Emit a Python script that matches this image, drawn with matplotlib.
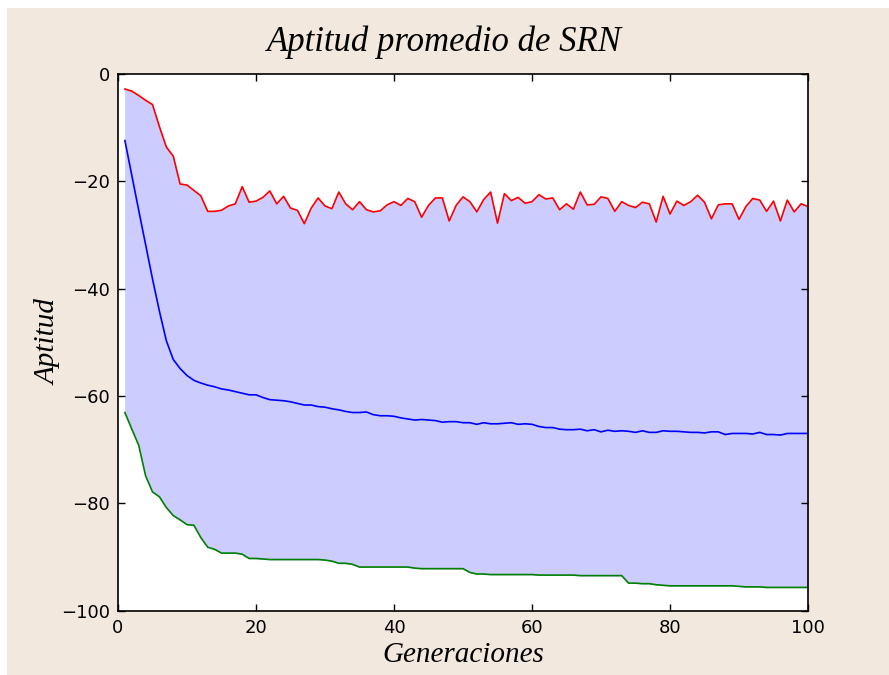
#!/usr/bin/env python

# aptitud promedio de SRN: best / mean / worst per generation

import matplotlib
matplotlib.use('Agg')
import matplotlib.pyplot as plt
from matplotlib.patches import Rectangle

generaciones = list(range(1, 101))

mejor = [
    -2.8, -3.2, -4.0, -4.9, -5.7, -9.8, -13.6, -15.3, -20.5, -20.7,
    -21.7, -22.7, -25.6, -25.6, -25.4, -24.6, -24.2, -21.0, -23.9, -23.7,
    -23.0, -21.8, -24.2, -22.8, -25.0, -25.4, -27.9, -25.0, -23.1, -24.6,
    -25.1, -22.0, -24.2, -25.3, -23.8, -25.3, -25.7, -25.5, -24.4, -23.8,
    -24.5, -23.2, -23.8, -26.7, -24.5, -23.1, -23.1, -27.4, -24.5, -22.9,
    -23.8, -25.7, -23.4, -22.0, -27.8, -22.3, -23.6, -23.0, -24.1, -23.8,
    -22.5, -23.3, -23.1, -25.3, -24.2, -25.2, -22.0, -24.4, -24.3, -22.9,
    -23.2, -25.6, -23.8, -24.5, -24.9, -23.9, -24.2, -27.6, -22.8, -26.1,
    -23.7, -24.5, -23.8, -22.6, -23.9, -27.0, -24.4, -24.2, -24.2, -27.1,
    -24.7, -23.2, -23.5, -25.6, -23.7, -27.4, -23.5, -25.7, -24.2, -24.7,
]

promedio = [
    -12.4, -18.9, -25.4, -31.8, -38.2, -44.2, -49.7, -53.2, -54.9, -56.2,
    -57.1, -57.6, -58.0, -58.3, -58.7, -58.9, -59.2, -59.5, -59.8, -59.8,
    -60.3, -60.7, -60.8, -60.9, -61.1, -61.4, -61.7, -61.7, -62.0, -62.1,
    -62.4, -62.6, -62.9, -63.1, -63.1, -63.0, -63.5, -63.7, -63.7, -63.8,
    -64.1, -64.3, -64.5, -64.4, -64.5, -64.6, -64.9, -64.8, -64.8, -65.0,
    -65.0, -65.3, -65.0, -65.2, -65.2, -65.1, -65.0, -65.3, -65.2, -65.3,
    -65.7, -65.9, -65.9, -66.2, -66.3, -66.3, -66.2, -66.5, -66.3, -66.7,
    -66.4, -66.6, -66.5, -66.6, -66.8, -66.5, -66.8, -66.8, -66.5, -66.6,
    -66.6, -66.7, -66.8, -66.8, -66.9, -66.7, -66.7, -67.2, -67.0, -67.0,
    -67.0, -67.1, -66.8, -67.2, -67.2, -67.3, -67.0, -67.0, -67.0, -67.0,
]

peor = [
    -63.1, -66.2, -69.2, -74.9, -77.9, -78.8, -80.8, -82.3, -83.1, -84.0,
    -84.1, -86.4, -88.2, -88.6, -89.3, -89.3, -89.3, -89.5, -90.3, -90.3,
    -90.4, -90.5, -90.5, -90.5, -90.5, -90.5, -90.5, -90.5, -90.5, -90.6,
    -90.8, -91.2, -91.2, -91.4, -91.9, -91.9, -91.9, -91.9, -91.9, -91.9,
    -91.9, -91.9, -92.1, -92.2, -92.2, -92.2, -92.2, -92.2, -92.2, -92.2,
    -92.9, -93.2, -93.2, -93.3, -93.3, -93.3, -93.3, -93.3, -93.3, -93.3,
    -93.4, -93.4, -93.4, -93.4, -93.4, -93.4, -93.5, -93.5, -93.5, -93.5,
    -93.5, -93.5, -93.5, -94.9, -94.9, -95.0, -95.0, -95.2, -95.3, -95.4,
    -95.4, -95.4, -95.4, -95.4, -95.4, -95.4, -95.4, -95.4, -95.4, -95.5,
    -95.6, -95.6, -95.6, -95.7, -95.7, -95.7, -95.7, -95.7, -95.7, -95.7,
]

BEIGE = '#f2e8de'
serif = {'family': 'Liberation Serif', 'style': 'italic'}

fig = plt.figure(figsize=(8.89, 6.75), dpi=100, facecolor='white')
# beige panel, thin white strip on top and left like the original
fig.patches.append(Rectangle((7 / 889, 0), 1, 1 - 8 / 675, transform=fig.transFigure,
                             facecolor=BEIGE, edgecolor='none', zorder=-10))

ax = fig.add_axes([118 / 889, 1 - 610.5 / 675, 690 / 889, 536.5 / 675])
ax.fill_between(generaciones, mejor, peor, facecolor='#ccccff', edgecolor='#ccccff', linewidth=0.5)
ax.plot(generaciones, mejor, color='red', linewidth=1.2)
ax.plot(generaciones, promedio, color='blue', linewidth=1.2)
ax.plot(generaciones, peor, color='green', linewidth=1.2)

ax.set_xlim(0, 100)
ax.set_ylim(-100, 0)
ax.set_xticks(range(0, 101, 20))
ax.set_yticks(range(-100, 1, 20))
ax.set_yticklabels(['\u2212100', '\u221280', '\u221260', '\u221240', '\u221220', '0'])
ax.tick_params(direction='in', length=5, width=1, labelsize=13, pad=6,
               top=True, right=True)
for s in ax.spines.values():
    s.set_linewidth(1.2)

# title is centred on the whole figure, not on the axes
fig.text(0.5, 1 - 42 / 675, 'Aptitud promedio de SRN', fontdict=serif, fontsize=25,
         ha='center', va='center')
ax.set_xlabel('Generaciones', fontdict=serif, fontsize=21, labelpad=4)
ax.set_ylabel('Aptitud', fontdict=serif, fontsize=21, labelpad=-1)

fig.savefig('out.png', dpi=100, facecolor=fig.get_facecolor())
